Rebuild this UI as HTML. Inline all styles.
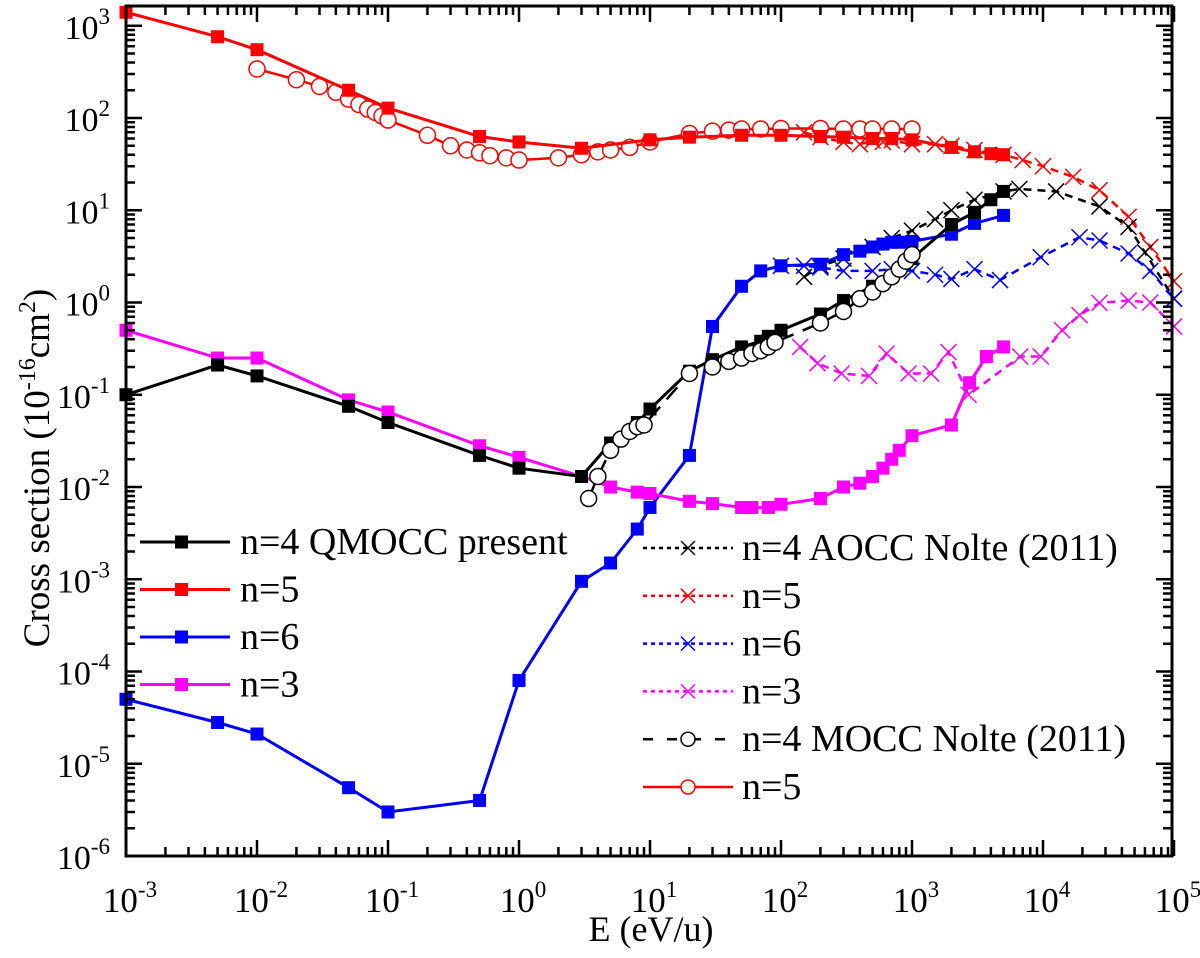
<!DOCTYPE html>
<html><head><meta charset="utf-8"><style>
body{margin:0;background:#fff}
svg{display:block;font-family:"Liberation Serif",serif}
</style></head><body>
<svg id="chart" width="1200" height="958" viewBox="0 0 1200 958" xmlns="http://www.w3.org/2000/svg">
<g id="marks"></g><g id="axes"></g><g id="legend"></g>
</svg>
<script>
// ---- data ----
const q4E=[1e-3,5e-3,1e-2,5e-2,0.1,0.5,1,3,5,8,10,20,30,50,70,80,100,200,300,500,700,1000,2000,3000,4000,5000];
const q4S=[0.1,0.21,0.16,0.075,0.05,0.022,0.016,0.013,0.03,0.05,0.07,0.18,0.24,0.33,0.38,0.43,0.5,0.75,1.05,1.5,1.9,3,7,9.5,13,16];
const q5E=[1e-3,5e-3,1e-2,5e-2,0.1,0.5,1,3,10,20,50,100,200,300,500,700,1000,2000,3000,4000,5000];
const q5S=[1400,760,550,200,128,63,55,47,58,62,65,65,63,62,60,60,58,48,43,41,40];
const q6E=[1e-3,5e-3,1e-2,5e-2,0.1,0.5,1,3,5,8,10,20,30,50,70,100,200,300,400,500,600,700,800,1000,2000,3000,5000];
const q6S=[5e-5,2.8e-5,2.1e-5,5.5e-6,3e-6,4e-6,8e-5,9.5e-4,1.5e-3,3.5e-3,6e-3,0.022,0.55,1.5,2.2,2.5,2.6,3.3,3.6,4.0,4.3,4.5,4.5,4.6,5.5,7.2,8.8];
const q3E=[1e-3,5e-3,1e-2,5e-2,0.1,0.5,1,3,5,8,10,20,30,50,60,80,100,200,300,400,500,600,700,800,1000,2000,2750,3700,5000];
const q3S=[0.5,0.25,0.25,0.088,0.065,0.028,0.021,0.013,0.010,0.0088,0.0085,0.007,0.0066,0.006,0.006,0.006,0.0065,0.0075,0.010,0.011,0.013,0.016,0.02,0.025,0.036,0.047,0.135,0.26,0.33];
const a4E=[150,200,300,500,700,1000,1500,2000,3000,5000,6600,12600,27000,45000,60000,100000];
const a4S=[1.9,2.5,3,4,5,6,8,10,13,16,17,16,11,6.6,3.5,1.1];
const a5E=[150,200,300,400,500,600,700,1000,1500,2000,3000,5000,7000,10000,17000,27000,45000,66000,100000];
const a5S=[70,62,55,52,57,55,57,52,52,50,45,40,35,30,23,16.5,8.5,4,1.7];
const a6E=[100,150,200,300,500,700,1000,1500,2000,3000,4700,9600,19000,27000,45000,66000,100000];
const a6S=[2.5,2.5,2.4,2.2,2.2,2.3,2.2,2.0,1.8,2.3,1.75,3.1,5.1,4.7,3.4,2.2,1.1];
const a3E=[140,190,290,470,640,940,1400,1900,2700,6700,9600,14000,19000,27000,45000,66000,100000];
const a3S=[0.33,0.22,0.17,0.16,0.28,0.17,0.17,0.29,0.1,0.26,0.26,0.5,0.73,0.99,1.05,1.0,0.55];
const m4E=[3.4,4,5,6,7,8,9,20,30,40,50,60,70,80,90,200,300,400,500,600,700,800,900,1000];
const m4S=[0.0075,0.013,0.025,0.033,0.04,0.045,0.047,0.17,0.2,0.23,0.25,0.28,0.3,0.33,0.37,0.6,0.8,1.1,1.3,1.6,1.9,2.3,2.8,3.3];
const m5E=[0.01,0.02,0.03,0.04,0.05,0.06,0.07,0.08,0.09,0.1,0.2,0.3,0.4,0.5,0.6,0.8,1,2,3,4,5,7,10,20,30,40,50,70,100,200,300,400,500,700,1000];
const m5S=[340,260,220,190,160,140,125,115,105,95,65,50,45,42,39,37,35,37,40,43,45,48,55,68,72,74,76,76,77,77,76,76,76,76,76];
const xTickExp=[-3,-2,-1,0,1,2,3,4,5];
const yTickExp=[-6,-5,-4,-3,-2,-1,0,1,2,3];

// ---- scales ----
const X0=126,XD=131,Y2=118,YD=92.25,L=126,R=1172,T=6,B=856;
const sx=e=>X0+XD*(Math.log10(e)+3);
const sy=s=>Y2+YD*(2-Math.log10(s));
const NS="http://www.w3.org/2000/svg";
function mk(tag,attrs,parent){const el=document.createElementNS(NS,tag);for(const k in attrs)el.setAttribute(k,attrs[k]);parent.appendChild(el);return el;}
const marks=document.getElementById('marks'),axes=document.getElementById('axes'),legend=document.getElementById('legend');
function marker(type,x,y,col,parent){
  if(type==='sq'){return mk('rect',{x:x-6.5,y:y-6.5,width:13,height:13,fill:col},parent);}
  if(type==='ci'){return mk('circle',{cx:x,cy:y,r:8,fill:'#fff',stroke:col,'stroke-width':1.5},parent);}
  return mk('path',{d:`M${x-8} ${y-8}L${x+8} ${y+8}M${x-8} ${y+8}L${x+8} ${y-8}`,stroke:col,'stroke-width':1.5,fill:'none'},parent);
}
function series(name,E,S,col,type,dash){
  const g=mk('g',{},marks);
  
  
  const pts=E.map((e,i)=>sx(e).toFixed(1)+','+sy(S[i]).toFixed(1)).join(' ');
  const attrs={points:pts,fill:'none',stroke:col,'stroke-width':type==='sq'?3:2.5};
  if(dash)attrs['stroke-dasharray']=dash;
  const pl=mk('polyline',attrs,g);
  
  
  E.forEach((e,i)=>{const m=marker(type,sx(e),sy(S[i]),col,g);
    
    });
}
series('mocc-n5',m5E,m5S,'#f00','ci',null);
series('aocc-n5',a5E,a5S,'#f00','x','8,6');
series('aocc-n4',a4E,a4S,'#000','x','8,6');
series('aocc-n6',a6E,a6S,'#00f','x','8,6');
series('aocc-n3',a3E,a3S,'#f0f','x','8,6');
series('qmocc-n5',q5E,q5S,'#f00','sq',null);
series('qmocc-n6',q6E,q6S,'#00f','sq',null);
series('qmocc-n3',q3E,q3S,'#f0f','sq',null);
series('qmocc-n4',q4E,q4S,'#000','sq',null);
series('mocc-n4',m4E,m4S,'#000','ci','16,10');

// ---- axes ----
const frame=mk('rect',{x:L,y:T,width:R-L,height:B-T,fill:'none',stroke:'#000','stroke-width':3},axes);


let tk='';
xTickExp.forEach(p=>{
  const x=sx(Math.pow(10,p));
  tk+=`M${x} ${B}v-16M${x} ${T}v16`;
  if(p<5)for(let m=2;m<10;m++){const xm=sx(m*Math.pow(10,p));tk+=`M${xm} ${B}v-9M${xm} ${T}v9`;}
  const t=mk('text',{x:x+4,y:B+56,'text-anchor':'middle','font-size':35},axes);
  
  
  t.innerHTML=`10<tspan dy="-15" font-size="23">${p}</tspan>`;
});
yTickExp.forEach(p=>{
  const y=sy(Math.pow(10,p));
  tk+=`M${L} ${y}h16M${R} ${y}h-16`;
  for(let m=2;m<10;m++){const ym=sy(m*Math.pow(10,p));if(ym>T)tk+=`M${L} ${ym}h9M${R} ${ym}h-9`;}
  const t=mk('text',{x:L-16,y:y+13,'text-anchor':'end','font-size':34},axes);
  
  
  t.innerHTML=`10<tspan dy="-15" font-size="23">${p}</tspan>`;
});
const ticks=mk('path',{d:tk,stroke:'#000','stroke-width':2.5,fill:'none'},axes);


const xl=mk('text',{x:651,y:941,'text-anchor':'middle','font-size':36},axes);


xl.textContent='E (eV/u)';
const yl=mk('text',{x:0,y:0,'text-anchor':'middle','font-size':37,transform:'translate(49,468) rotate(-90)'},axes);


yl.innerHTML='Cross section (10<tspan dy="-14" font-size="24">-16</tspan><tspan dy="14">cm</tspan><tspan dy="-14" font-size="24">2</tspan><tspan dy="14">)</tspan>';

// ---- legend ----
const legL=[['n=4 QMOCC present','#000'],['n=5','#f00'],['n=6','#00f'],['n=3','#f0f']];
legL.forEach((d,i)=>{
  const y=542+i*47.5;const g=mk('g',{},legend);
  
  
  mk('line',{x1:140,x2:230,y1:y,y2:y,stroke:d[1],'stroke-width':3},g);
  mk('rect',{x:175,y:y-6.5,width:13,height:13,fill:d[1]},g);
  const t=mk('text',{x:240,y:y+12,'font-size':38},g);t.textContent=d[0];
});
const legR=[['n=4 AOCC Nolte (2011)','#000','x','4,4'],['n=5','#f00','x','4,4'],['n=6','#00f','x','4,4'],['n=3','#f0f','x','4,4'],['n=4 MOCC Nolte (2011)','#000','ci','10,14'],['n=5','#f00','ci',null]];
legR.forEach((d,i)=>{
  const y=548+i*47.8;const g=mk('g',{},legend);
  
  
  const a={x1:643,x2:733,y1:y,y2:y,stroke:d[1],'stroke-width':2.5};if(d[3])a['stroke-dasharray']=d[3];
  mk('line',a,g);
  if(d[2]==='x')mk('path',{d:`M${681} ${y-7}l14 14M${681} ${y+7}l14 -14`,stroke:d[1],'stroke-width':1.5},g);
  else mk('circle',{cx:688,cy:y,r:7,fill:'#fff',stroke:d[1],'stroke-width':1.5},g);
  const t=mk('text',{x:742,y:y+12,'font-size':38},g);t.textContent=d[0];
});
</script>
</body></html>
